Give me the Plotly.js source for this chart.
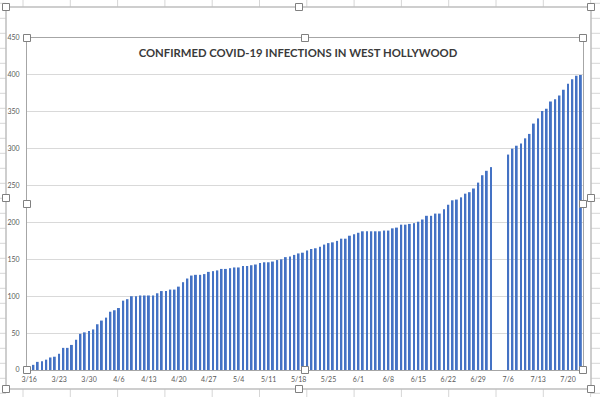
<!DOCTYPE html>
<html><head><meta charset="utf-8">
<script src="https://cdn.plot.ly/plotly-3.0.1.min.js"></script>
<style>html,body{margin:0;padding:0;background:#fff}#chart{width:600px;height:397px}</style>
</head><body><div id="chart"></div>
<script>
// Daily cumulative confirmed cases, first bar = 3/16 (one bar per day)
const startDate = '2020-03-16';
const casesMar = [4,7,11,12,14,17,18,22,30,30,34,41,49,51,53,55];
const casesApr = [62,67,71,79,81,84,94,96,100,100,101,101,101,101,104,107,107,109,109,113,119,124,128,129,129,130,133,134,135,137];
const casesMay = [137,138,139,139,141,141,142,143,145,146,146,147,149,150,153,154,156,158,159,162,164,165,167,170,172,173,175,178,178,182,184];
const casesJun = [186,188,188,188,188,188,189,189,192,193,197,197,198,199,201,204,209,209,212,212,218,224,230,231,234,239,241,246,254,264];
const casesJul = [270,275,null,null,null,292,300,304,307,314,320,334,341,351,354,364,367,372,380,388,394,399,400];
const cases = [].concat(casesMar, casesApr, casesMay, casesJun, casesJul);
const yTicks = [0,50,100,150,200,250,300,350,400,450];
const titleText = 'CONFIRMED COVID-19 INFECTIONS IN WEST HOLLYWOOD';

const DAY = 86400000;
const W = 600, H = 397, ML = 27, MR = 17, MT = 38, MB = 27;
const PW = W - ML - MR, PH = H - MT - MB;
const px = x => (x - ML) / PW;
const py = y => (H - MB - y) / PH;

const shapes = [];
const gridCol = '#d6d6d6';
// spreadsheet cell lines around the chart object
for (let x = 23; x < W; x += 47.3) {
  shapes.push({type:'line', xref:'paper', yref:'paper', x0:px(x), x1:px(x), y0:py(0), y1:py(7), line:{color:gridCol, width:1}});
  shapes.push({type:'line', xref:'paper', yref:'paper', x0:px(x), x1:px(x), y0:py(389), y1:py(397), line:{color:gridCol, width:1}});
}
for (let y = 3.3; y < H; y += 15) {
  shapes.push({type:'line', xref:'paper', yref:'paper', x0:px(0), x1:px(6), y0:py(y), y1:py(y), line:{color:gridCol, width:1}});
  shapes.push({type:'line', xref:'paper', yref:'paper', x0:px(591), x1:px(600), y0:py(y), y1:py(y), line:{color:gridCol, width:1}});
}
// outer chart frame
shapes.push({type:'rect', xref:'paper', yref:'paper', x0:px(6), x1:px(591), y0:py(7), y1:py(389), line:{color:'#bfbfbf', width:1.5}, fillcolor:'rgba(0,0,0,0)'});
// selection handles
const handles = [[6,7],[299,7],[591,7],[6,198],[591,198],[6,389],[299,389],[591,389],
                 [27,38],[305,38],[583,38],[27,204],[583,204],[27,370],[305,370],[583,370]];
handles.forEach(([hx,hy]) => {
  shapes.push({type:'rect', xref:'paper', yref:'paper', x0:px(hx-3.5), x1:px(hx+3.5), y0:py(hy-3.5), y1:py(hy+3.5),
    line:{color:'#808080', width:1}, fillcolor:'#ffffff'});
});

const tickFont = {family:'Lato, Calibri, sans-serif', size:7, color:'#595959'};

Plotly.newPlot('chart', [{
  type:'bar', x0:startDate, dx:DAY, y:cases,
  marker:{color:'#4472c4'}, hoverinfo:'skip'
}], {
  width:W, height:H,
  margin:{l:ML, r:MR, t:MT, b:MB, pad:0},
  paper_bgcolor:'#ffffff', plot_bgcolor:'#ffffff',
  bargap:0.55, showlegend:false,
  title:{text:titleText, font:{family:'Lato, Calibri, sans-serif', size:11.3, color:'#3a3a3a', weight:'bold'},
    xref:'container', x:298/W, xanchor:'center', yref:'container', y:1-53/H, yanchor:'middle'},
  xaxis:{type:'date', range:['2020-03-15 12:00','2020-07-23 12:00'], tick0:startDate, dtick:7*DAY,
    tickformat:'%-m/%-d', showgrid:false, showline:true, mirror:true, linecolor:'#a6a6a6', linewidth:1,
    ticks:'', tickfont:tickFont, ticklabelstandoff:3, zeroline:false},
  yaxis:{range:[0,450], tickvals:yTicks, showgrid:true, gridcolor:'#d9d9d9', gridwidth:1,
    showline:true, mirror:true, linecolor:'#a6a6a6', linewidth:1, ticks:'', tickfont:tickFont,
    ticklabelstandoff:5, zeroline:false},
  shapes:shapes
}, {displayModeBar:false});
</script>
</body></html>
